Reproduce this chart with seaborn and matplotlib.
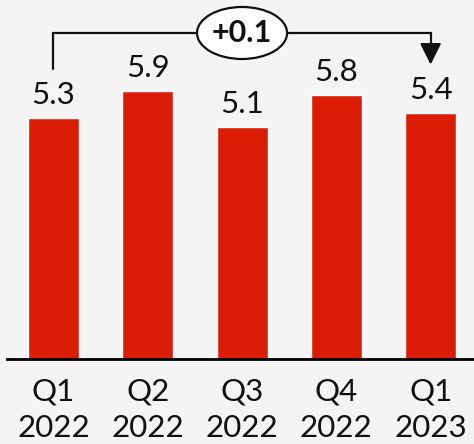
import matplotlib
matplotlib.use("Agg")
import matplotlib.pyplot as plt
from matplotlib.patches import Ellipse
import seaborn as sns
import pandas as pd

categories = ["Q1\n2022", "Q2\n2022", "Q3\n2022", "Q4\n2022", "Q1\n2023"]
values = [5.3, 5.9, 5.1, 5.8, 5.4]
change_label = "+0.1"

BG = "#f4f4f4"
RED = "#db1d07"

sns.set_theme(style="white")
plt.rcParams["font.family"] = ["Lato", "DejaVu Sans"]

df = pd.DataFrame({"cat": categories, "val": values})

fig = plt.figure(figsize=(4.74, 4.44), dpi=100, facecolor=BG)
ax = fig.add_axes([7 / 474, 85 / 444, 1 - 7 / 474, 359 / 444])
ax.set_facecolor(BG)

sns.barplot(data=df, x="cat", y="val", color=RED, width=0.54, saturation=1, ax=ax)

ax.set_xlim(-0.493, 4.46)
ax.set_ylim(0, 7.89)

for i, v in enumerate(values):
    ax.annotate(f"{v:.1f}", (i, v), xytext=(0, 6.5), textcoords="offset points",
                ha="center", va="bottom", fontsize=22.5, color="#111111")

for s in ["top", "right", "left"]:
    ax.spines[s].set_visible(False)
ax.spines["bottom"].set_color("black")
ax.spines["bottom"].set_linewidth(2)
ax.set_yticks([])
ax.set_xlabel("")
ax.set_ylabel("")
ax.tick_params(axis="x", length=0, pad=13, labelsize=22.5, labelcolor="#111111")
for t in ax.get_xticklabels():
    t.set_linespacing(1.38)

# bracket annotation
y_line = 7.165
ax.plot([0, 0, 4, 4], [6.37, y_line, y_line, 6.75], color="#111111", lw=1.6,
        solid_joinstyle="miter", clip_on=False)
ax.annotate("", xy=(4, 6.47), xytext=(4, 6.85),
            arrowprops=dict(arrowstyle="-|>,head_length=1.08,head_width=0.54",
                            color="#111111", lw=1.6, shrinkA=0, shrinkB=0))
# ellipse around the change label (size in data units: ~90 x 52 px)
ell = Ellipse((2, y_line), width=90 / 94.25, height=52 / 45.5, fc="white",
              ec="#111111", lw=1.6, clip_on=False, zorder=4)
ax.add_patch(ell)
ax.text(2, y_line, change_label, ha="center", va="center", fontsize=22,
        fontweight="bold", color="#111111", zorder=5)

fig.savefig("out.png", dpi=100, facecolor=BG)
